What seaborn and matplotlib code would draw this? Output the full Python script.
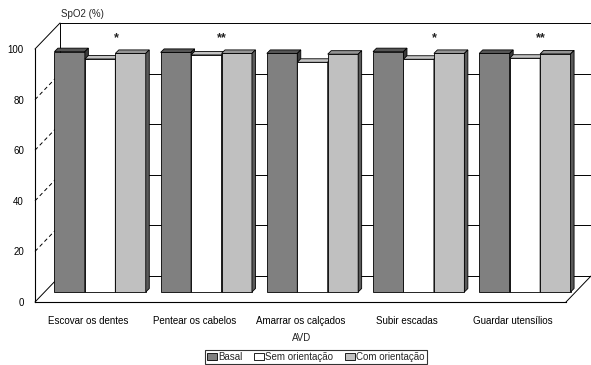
import numpy as np
import pandas as pd
import matplotlib
matplotlib.use("Agg")
import matplotlib.pyplot as plt
from matplotlib.patches import Polygon
from matplotlib.transforms import ScaledTranslation
import seaborn as sns

# ---- data ----
categories = ["Escovar os dentes", "Pentear os cabelos", "Amarrar os calçados",
              "Subir escadas", "Guardar utensílios"]
series_names = ["Basal", "Sem orientação", "Com orientação"]
basal = [95.0, 94.7, 94.3, 95.0, 94.3]
sem_orientacao = [92.1, 93.7, 90.8, 92.0, 92.4]
com_orientacao = [94.3, 94.3, 94.0, 94.3, 94.1]
significance = ["*", "**", "", "*", "**"]
y_ticks = [0, 20, 40, 60, 80, 100]

df = pd.DataFrame({
    "AVD": categories * 3,
    "SpO2": basal + sem_orientacao + com_orientacao,
    "Grupo": [s for s in series_names for _ in categories],
})

sns.set_style("white")
plt.rcParams["font.family"] = ["Liberation Sans", "DejaVu Sans"]

W, H = 591, 365
fig = plt.figure(figsize=(W / 100, H / 100), dpi=100)
ax = fig.add_axes([35 / W, 63 / H, 531 / W, 253 / H])

front_cols = ["#808080", "#ffffff", "#c0c0c0"]
top_cols = ["#555555", "#c4c4c4", "#959595"]
side_cols = ["#3a3a3a", "#8a8a8a", "#5a5a5a"]

sns.barplot(data=df, x="AVD", y="SpO2", hue="Grupo", order=categories,
            hue_order=series_names, palette=front_cols, width=0.86,
            edgecolor="black", linewidth=0.6, saturation=1, ax=ax)

ax.set_xlim(-0.5, len(categories) - 0.5)
ax.set_ylim(0, 100)
ax.set_yticks(y_ticks)
ax.tick_params(axis="both", length=0, labelsize=7, colors="black")
ax.tick_params(axis="y", pad=8)
ax.tick_params(axis="x", pad=10)
for s in ["top", "right"]:
    ax.spines[s].set_visible(False)
for s in ["left", "bottom"]:
    ax.spines[s].set_color("black")
    ax.spines[s].set_linewidth(0.8)
ax.patch.set_alpha(0)

# pixel -> data conversion helper
def px2data(dx, dy):
    p0 = ax.transData.transform((0, 0))
    p1 = ax.transData.inverted().transform((p0[0] + dx, p0[1] + dy))
    return p1[0], p1[1]

xmin, xmax = ax.get_xlim()
bx, by = px2data(25, 26)   # depth of the 3D box
dx, dy = px2data(3.5, 3.5)  # depth of each bar

# back wall, left wall and floor
lkw = dict(color="black", lw=0.7, clip_on=False, zorder=0.5)
for v in y_ticks:
    ax.plot([xmin + bx, xmax + bx + 1], [v + by, v + by], **lkw)
    ls = "-" if v in (0, 100) else (0, (4, 3))
    ax.plot([xmin, xmin + bx], [v, v + by], ls=ls, **lkw)
ax.plot([xmin + bx, xmin + bx], [by, 100 + by], **lkw)
ax.plot([xmax, xmax + bx], [0, by], **lkw)

# move bars to mid-depth and add 3D faces
bar_off = ax.transData + ScaledTranslation(0.12, 0.10, fig.dpi_scale_trans)
for h, cont in enumerate(ax.containers):
    for p in cont:
        p.set_transform(bar_off)
        p.set_zorder(2 + h)
        p.set_clip_on(False)
        x0, w, ht = p.get_x(), p.get_width(), p.get_height()
        x1 = x0 + w
        top = Polygon([(x0, ht), (x1, ht), (x1 + dx, ht + dy), (x0 + dx, ht + dy)],
                      closed=True, facecolor=top_cols[h], edgecolor="black",
                      lw=0.6, transform=bar_off, zorder=2 + h, clip_on=False)
        side = Polygon([(x1, 0), (x1, ht), (x1 + dx, ht + dy), (x1 + dx, dy)],
                       closed=True, facecolor=side_cols[h], edgecolor="black",
                       lw=0.6, transform=bar_off, zorder=2 + h, clip_on=False)
        ax.add_patch(top)
        ax.add_patch(side)

# significance markers
for i, s in enumerate(significance):
    if s:
        ax.text(i + 0.15, 100.5, s, transform=bar_off, ha="center", va="center",
                fontsize=9, fontweight="bold", color="#222222", zorder=10,
                clip_on=False)

# labels
ax.set_xlabel("AVD", fontsize=7)
ax.xaxis.set_label_coords((302 - 35) / 531, (302 - 333) / 253)
ax.set_ylabel("SpO2 (%)", fontsize=7, rotation=0, ha="center", va="center")
ax.yaxis.set_label_coords((82 - 35) / 531, (302 - 14) / 253)

# legend
handles, labels = ax.get_legend_handles_labels()
if ax.get_legend() is not None:
    ax.get_legend().remove()
leg = fig.legend(handles, labels, loc="center", ncol=3,
                 bbox_to_anchor=(316 / W, 1 - 357 / H), fontsize=7,
                 frameon=True, fancybox=False, shadow=False,
                 handlelength=1.0, handleheight=0.7, handletextpad=0.15,
                 columnspacing=1.2, borderpad=0.25, borderaxespad=0)
leg.get_frame().set_edgecolor("black")
leg.get_frame().set_linewidth(0.8)

fig.savefig("out.png", dpi=100)
